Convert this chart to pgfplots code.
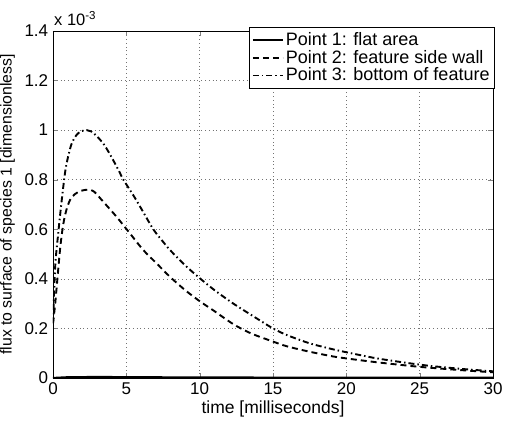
\documentclass[border=0pt]{standalone}
\usepackage{fontspec}
\setmainfont{Liberation Sans}
\usepackage{pgfplots}
\pgfplotsset{compat=1.18}
\begin{document}
\fontsize{17}{20}\selectfont
\begin{tikzpicture}
\begin{axis}[
  name=ax,
  scale only axis,
  width=440pt, height=347pt,
  xmin=0, xmax=30, ymin=0, ymax=1.4,
  xtick={0,5,...,30},
  ytick={0,0.2,0.4,0.6,0.8,1,1.2,1.4},
  yticklabels={0,0.2,0.4,0.6,0.8,1,1.2,1.4},
  /pgf/number format/assume math mode=true,
  tick align=inside,
  tick pos=both,
  major tick length=5pt,
  grid=major,
  major grid style={black!55, line width=0.6pt, dash pattern=on 0.8pt off 3pt},
  axis line style={line width=0.9pt},
  xlabel={time [milliseconds]},
  ylabel={flux to surface of species 1 [dimensionless]},
  xlabel style={yshift=6pt, font=\fontsize{17.5}{20}\selectfont},
  ylabel style={yshift=-2pt, font=\fontsize{15.8}{18}\selectfont},
  xticklabel style={yshift=1pt},
  yticklabel style={xshift=1pt},
  tick label style={font=\fontsize{17}{19}\selectfont},
  legend style={at={(rel axis cs:1,1)}, anchor=north east, xshift=2pt, yshift=4pt,
    draw=black, line width=0.9pt,
    font=\fontsize{18}{20}\selectfont, row sep=-2pt, inner sep=3pt, fill=white},
  legend cell align=left,
  legend image code/.code={\draw[#1, line width=1.8pt] (0pt,0pt) -- (30pt,0pt);},
  clip mode=individual,
]
\addplot[black, line width=2.2pt] coordinates {
(0,0) (1,0.003) (3,0.004) (6,0.003) (10,0.002) (20,0.001) (30,0.001)
};
\addlegendentry{Point 1: flat area}
\addplot[black, line width=1.9pt, dash pattern=on 6pt off 4pt, smooth] coordinates {
(0,0.22) (0.15,0.30) (0.3,0.40) (0.5,0.53) (0.7,0.62) (0.9,0.675) (1.16,0.718)
(1.5,0.742) (1.9,0.755) (2.4,0.76) (2.8,0.752) (3.43,0.711) (4.34,0.65)
(5.25,0.583) (6.16,0.516) (7.07,0.462) (7.98,0.408) (9.0,0.355) (10,0.31)
(11,0.27) (12.3,0.217) (13.5,0.18) (15,0.147) (16,0.127) (17.5,0.106)
(19,0.088) (20,0.079) (22,0.064) (24,0.051) (25,0.045) (26,0.040) (28,0.031) (30,0.023)
};
\addlegendentry{Point 2: feature side wall}
\addplot[black, line width=1.9pt, dash pattern=on 6pt off 3pt on 1.5pt off 3pt, smooth] coordinates {
(0,0.22) (0.15,0.45) (0.35,0.58) (0.6,0.72) (0.85,0.84) (1.1,0.91) (1.3,0.95)
(1.6,0.98) (1.9,0.995) (2.3,1.0) (2.6,0.995) (3.0,0.975) (3.5,0.94) (4.0,0.89)
(4.5,0.835) (4.8,0.80) (5.5,0.735) (6.0,0.685) (6.84,0.60) (7.5,0.55) (8.0,0.515)
(9.0,0.455) (10,0.403) (11,0.355) (12.3,0.30) (13.5,0.255) (15,0.20) (16,0.172)
(17.5,0.14) (19,0.117) (20,0.104) (22,0.08) (24,0.062) (25,0.054) (26,0.047)
(28,0.036) (30,0.027)
};
\addlegendentry{Point 3: bottom of feature}
\node[anchor=south west, inner sep=0pt, font=\fontsize{16.5}{19}\selectfont] at (rel axis cs:0,1) [xshift=1pt, yshift=5pt] {x 10\textsuperscript{-3}};
\end{axis}
\pgfresetboundingbox
\path[use as bounding box] ([xshift=-53pt,yshift=-48pt]ax.south west) rectangle ([xshift=12pt,yshift=31pt]ax.north east);
\end{tikzpicture}
\end{document}
